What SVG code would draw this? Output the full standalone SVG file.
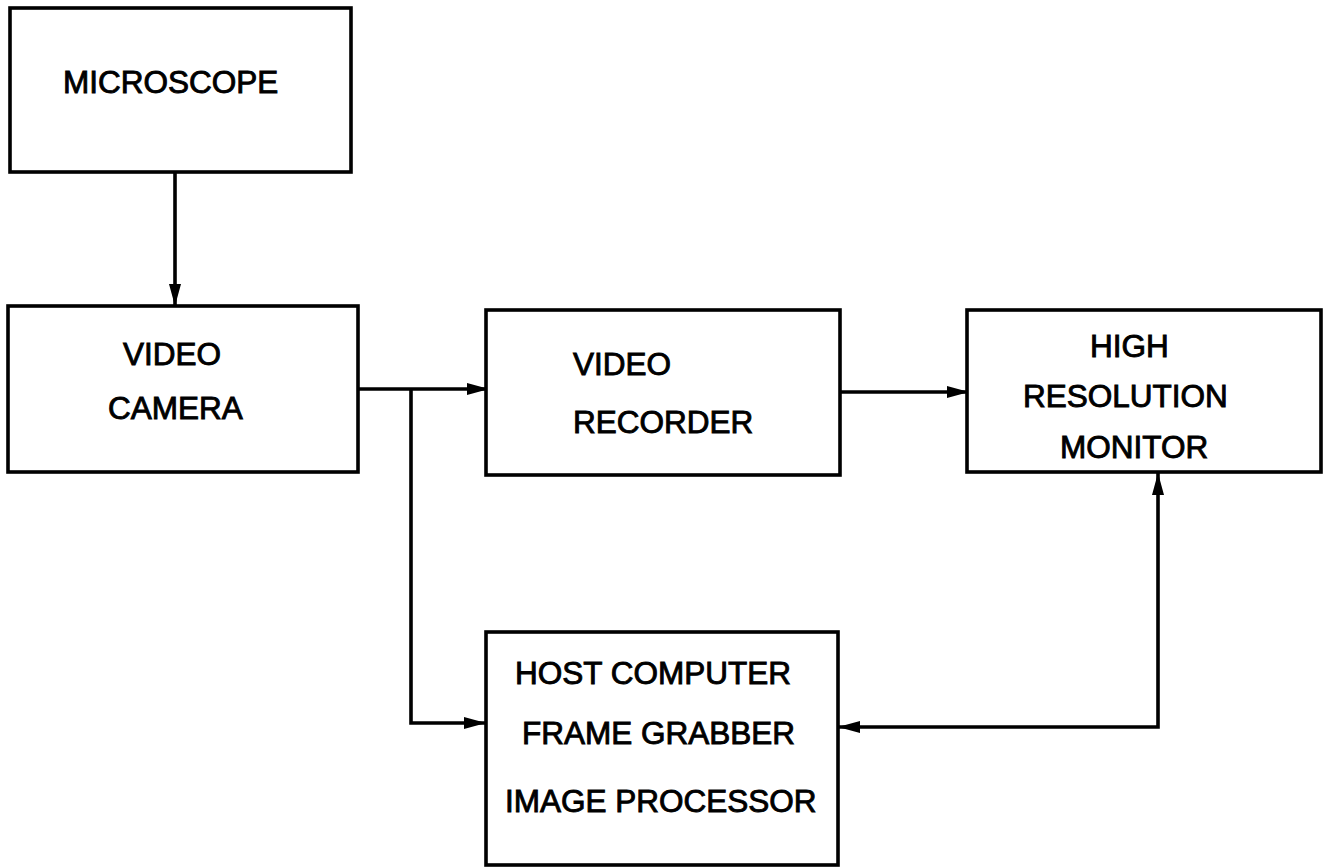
<svg xmlns="http://www.w3.org/2000/svg" width="1324" height="868" viewBox="0 0 1324 868">
<style>
.box{fill:#fff;stroke:#000;stroke-width:3.6}
.lbl{font-family:"Liberation Sans",Arial,sans-serif;font-size:31.5px;fill:#000;stroke:#000;stroke-width:0.9}
.con{fill:none;stroke:#000;stroke-width:3.6}
</style>
<defs>
<marker id="ah" viewBox="0 0 22 12" refX="22" refY="6" markerWidth="22" markerHeight="12" markerUnits="userSpaceOnUse" orient="auto-start-reverse">
<path d="M0,0 L22,6 L0,12 z" fill="#000"/>
</marker>
</defs>
<rect width="1324" height="868" fill="#fff"/>
<g id="connectors">
<path class="con" d="M175,172 L175,306" marker-end="url(#ah)"/>
<path class="con" d="M358,389 L489,389" marker-end="url(#ah)"/>
<path class="con" d="M411,389 L411,723 L486,723" marker-end="url(#ah)"/>
<path class="con" d="M840,392 L969,392" marker-end="url(#ah)"/>
<path class="con" d="M1158,473 L1158,727 L838,727" marker-start="url(#ah)" marker-end="url(#ah)"/>
</g>
<g id="microscope">
<rect class="box" x="10" y="8" width="341" height="164"/>
<text class="lbl" x="63" y="93">MICROSCOPE</text>
</g>
<g id="video-camera">
<rect class="box" x="8" y="306" width="350" height="166"/>
<text class="lbl" x="123" y="365">VIDEO</text>
<text class="lbl" x="108" y="419">CAMERA</text>
</g>
<g id="video-recorder">
<rect class="box" x="486" y="310" width="354" height="165"/>
<text class="lbl" x="573" y="375">VIDEO</text>
<text class="lbl" x="573" y="433">RECORDER</text>
</g>
<g id="monitor">
<rect class="box" x="967" y="310" width="354" height="162"/>
<text class="lbl" x="1090" y="357">HIGH</text>
<text class="lbl" x="1023" y="407">RESOLUTION</text>
<text class="lbl" x="1060" y="458">MONITOR</text>
</g>
<g id="host-computer">
<rect class="box" x="486" y="632" width="352" height="233"/>
<text class="lbl" x="515" y="684">HOST COMPUTER</text>
<text class="lbl" x="522" y="744">FRAME GRABBER</text>
<text class="lbl" x="505" y="812">IMAGE PROCESSOR</text>
</g>
</svg>
